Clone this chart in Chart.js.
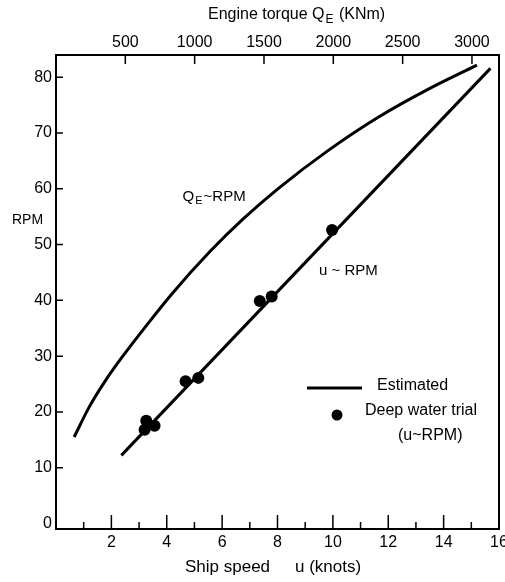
<!DOCTYPE html>
<html>
<head>
<meta charset="utf-8">
<title>Ship speed and engine torque vs RPM</title>
<script src="https://cdn.jsdelivr.net/npm/chart.js@4.4.1/dist/chart.umd.min.js"></script>
<style>
  html, body { margin: 0; padding: 0; background: #fff; }
</style>
</head>
<body>
<canvas id="rpmChart" width="505" height="582"></canvas>
<script>
// estimated engine torque curve (top axis, KNm)
const torqueKNm = [131, 240, 359, 479, 646, 837, 1112, 1350, 1600, 1964, 2321, 2679, 3036];
const torqueRpm = [15.5, 20.9, 25.7, 29.9, 35.3, 41.2, 48.8, 54.6, 60.0, 66.9, 72.8, 77.8, 82.2];

// estimated ship speed line (bottom axis, knots)
const speedKnots = [2.36, 15.69];
const speedRpm = [12.2, 81.6];

// deep water trial points
const trialKnots = [3.26, 3.20, 3.56, 4.68, 5.14, 7.36, 7.79, 9.97];
const trialRpm = [18.4, 16.8, 17.5, 25.5, 26.1, 39.9, 40.7, 52.6];

const speedTicks = [2, 4, 6, 8, 10, 12, 14, 16];
const torqueTicks = [500, 1000, 1500, 2000, 2500, 3000];
const rpmTicks = [0, 10, 20, 30, 40, 50, 60, 70, 80];

const FONT = "'Liberation Sans', Arial, Helvetica, sans-serif";
const INK = '#000';

const toPoints = (xs, ys) => xs.map((x, i) => ({ x, y: ys[i] }));

// text with a subscript "E" after the Q (Q_E)
function drawQE(ctx, x, y, size, rest) {
  ctx.font = size + 'px ' + FONT;
  ctx.fillText('Q', x, y);
  x += ctx.measureText('Q').width + 1;
  ctx.font = Math.round(size * 0.72) + 'px ' + FONT;
  ctx.fillText('E', x, y + size * 0.28);
  x += ctx.measureText('E').width + 1;
  ctx.font = size + 'px ' + FONT;
  ctx.fillText(rest, x, y);
}

const decorPlugin = {
  id: 'decor',
  afterDraw(chart) {
    const { ctx, chartArea: a, scales } = chart;
    const sx = scales.x, sx2 = scales.x2, sy = scales.y;
    ctx.save();
    ctx.strokeStyle = INK;
    ctx.fillStyle = INK;

    // frame
    ctx.lineWidth = 2;
    ctx.strokeRect(a.left, a.top, a.right - a.left, a.bottom - a.top);

    // inward ticks, long on even knots
    ctx.lineWidth = 1.5;
    ctx.beginPath();
    for (let v = 1; v < 16; v++) {
      const px = sx.getPixelForValue(v);
      const len = v % 2 === 0 ? 14 : 7;
      ctx.moveTo(px, a.bottom);
      ctx.lineTo(px, a.bottom - len);
    }
    torqueTicks.forEach(v => {
      const px = sx2.getPixelForValue(v);
      ctx.moveTo(px, a.top);
      ctx.lineTo(px, a.top + 9);
    });
    rpmTicks.forEach(v => {
      if (v === 0) return;
      const py = sy.getPixelForValue(v);
      ctx.moveTo(a.left, py);
      ctx.lineTo(a.left + 7, py);
    });
    ctx.stroke();

    ctx.textBaseline = 'middle';
    ctx.textAlign = 'left';

    // top axis title
    ctx.font = '16px ' + FONT;
    const head = 'Engine torque ';
    const hx = 208;
    ctx.fillText(head, hx, 15);
    drawQE(ctx, hx + ctx.measureText(head).width, 15, 16, ' (KNm)');

    // bottom axis title
    ctx.font = '17px ' + FONT;
    ctx.fillText('Ship speed', 185, 567);
    ctx.fillText('u (knots)', 295, 567);

    // y axis label
    ctx.font = '14px ' + FONT;
    ctx.fillText('RPM', 12, 220);

    // curve labels
    drawQE(ctx, sx.getPixelForValue(4.57), sy.getPixelForValue(58.6), 15, '~RPM');
    ctx.font = '15px ' + FONT;
    ctx.fillText('u ~ RPM', sx.getPixelForValue(9.5), sy.getPixelForValue(45.3));

    // legend
    ctx.lineWidth = 3;
    ctx.beginPath();
    ctx.moveTo(307, 388);
    ctx.lineTo(362, 388);
    ctx.stroke();
    ctx.font = '16px ' + FONT;
    ctx.fillText('Estimated', 377, 386);
    ctx.beginPath();
    ctx.arc(337, 415, 5.5, 0, Math.PI * 2);
    ctx.fill();
    ctx.fillText('Deep water trial', 365, 411);
    ctx.fillText('(u~RPM)', 398, 436);
    ctx.restore();
  }
};

const tickFont = { family: FONT, size: 16 };
const noGrid = { display: false, drawTicks: false, tickLength: 0 };

new Chart(document.getElementById('rpmChart'), {
  type: 'scatter',
  data: {
    datasets: [
      {
        label: 'Q_E ~ RPM',
        data: toPoints(torqueKNm, torqueRpm),
        xAxisID: 'x2',
        showLine: true,
        borderColor: INK,
        borderWidth: 3,
        pointRadius: 0,
        cubicInterpolationMode: 'monotone'
      },
      {
        label: 'u ~ RPM',
        data: toPoints(speedKnots, speedRpm),
        xAxisID: 'x',
        showLine: true,
        borderColor: INK,
        borderWidth: 3,
        pointRadius: 0
      },
      {
        label: 'Deep water trial',
        data: toPoints(trialKnots, trialRpm),
        xAxisID: 'x',
        showLine: false,
        pointRadius: 6,
        pointBackgroundColor: INK,
        pointBorderWidth: 0
      }
    ]
  },
  options: {
    responsive: false,
    animation: false,
    layout: { padding: { left: 0, right: 4, top: 0, bottom: 0 } },
    plugins: { legend: { display: false }, tooltip: { enabled: false } },
    scales: {
      x: {
        type: 'linear',
        position: 'bottom',
        min: 0,
        max: 16,
        grid: noGrid,
        border: { display: false },
        afterBuildTicks: s => { s.ticks = speedTicks.map(value => ({ value })); },
        ticks: { font: tickFont, color: INK, padding: 4, maxRotation: 0, autoSkip: false, callback: v => String(v) },
        afterFit: s => { s.height = 53; s.paddingLeft = 0; s.paddingRight = 0; }
      },
      x2: {
        type: 'linear',
        position: 'top',
        min: 0,
        max: 3195,
        grid: noGrid,
        border: { display: false },
        afterBuildTicks: s => { s.ticks = torqueTicks.map(value => ({ value })); },
        ticks: { font: tickFont, color: INK, padding: 3, maxRotation: 0, autoSkip: false, callback: v => String(v) },
        afterFit: s => { s.height = 55; s.paddingLeft = 0; s.paddingRight = 0; }
      },
      y: {
        type: 'linear',
        min: -1,
        max: 84,
        grid: noGrid,
        border: { display: false },
        afterBuildTicks: s => { s.ticks = rpmTicks.map(value => ({ value })); },
        ticks: { font: tickFont, color: INK, padding: 4, autoSkip: false, callback: v => String(v) },
        afterFit: s => { s.width = 56; s.paddingTop = 0; s.paddingBottom = 0; }
      }
    }
  },
  plugins: [decorPlugin]
});
</script>
</body>
</html>
